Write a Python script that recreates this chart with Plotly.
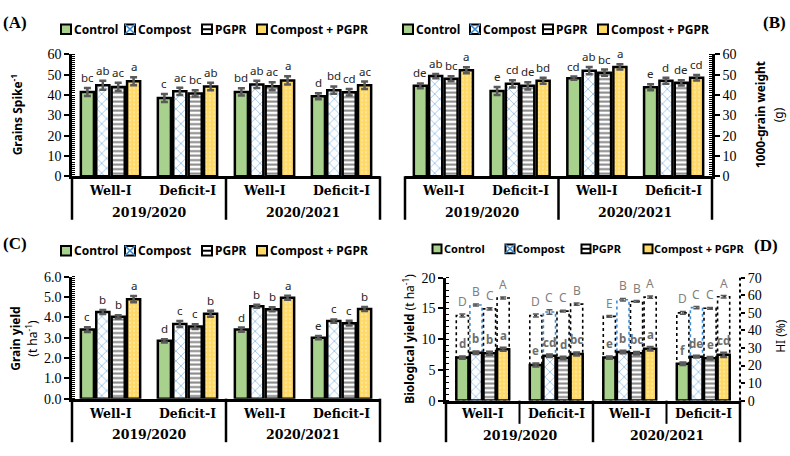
import plotly.graph_objects as go

W, H = 790, 456

# ---------------- data ----------------
categories = ["Well-I 2019/2020", "Deficit-I 2019/2020", "Well-I 2020/2021", "Deficit-I 2020/2021"]
irrigation_labels = ["Well-I", "Deficit-I", "Well-I", "Deficit-I"]
season_labels = ["2019/2020", "2020/2021"]
treatments = ["Control", "Compost", "PGPR", "Compost + PGPR"]

# (A) Grains spike-1
grains_control = [41.5, 38.5, 41.5, 39.4]
grains_compost = [44.8, 41.8, 45.2, 42.4]
grains_pgpr = [44.0, 40.8, 44.3, 41.3]
grains_cp = [46.8, 44.2, 47.2, 44.8]
grains_err_control = [2.0, 2.0, 1.8, 1.5]
grains_err_compost = [2.2, 1.8, 1.8, 1.8]
grains_err_pgpr = [2.0, 1.5, 2.0, 1.6]
grains_err_cp = [2.0, 1.8, 2.0, 1.8]
grains_letters_control = ["bc", "c", "bd", "d"]
grains_letters_compost = ["ab", "ac", "ab", "bd"]
grains_letters_pgpr = ["ac", "bc", "ac", "cd"]
grains_letters_cp = ["a", "ab", "a", "ac"]

# (B) 1000-grain weight (g)
tgw_control = [44.5, 42.0, 48.3, 43.8]
tgw_compost = [49.3, 45.5, 52.0, 47.0]
tgw_pgpr = [48.0, 44.5, 51.0, 46.0]
tgw_cp = [52.2, 47.0, 53.8, 48.5]
tgw_err_control = [1.2, 2.0, 0.8, 1.5]
tgw_err_compost = [1.0, 1.8, 1.8, 1.5]
tgw_err_pgpr = [1.2, 1.8, 1.5, 1.3]
tgw_err_cp = [1.5, 1.5, 1.3, 1.3]
tgw_letters_control = ["de", "e", "cd", "e"]
tgw_letters_compost = ["ab", "cd", "ab", "d"]
tgw_letters_pgpr = ["bc", "de", "bc", "de"]
tgw_letters_cp = ["a", "bd", "a", "cd"]

# (C) Grain yield (t ha-1)
gy_control = [3.40, 2.85, 3.40, 3.00]
gy_compost = [4.27, 3.68, 4.55, 3.82]
gy_pgpr = [4.03, 3.55, 4.40, 3.72]
gy_cp = [4.90, 4.18, 4.97, 4.42]
gy_err_control = [0.12, 0.08, 0.10, 0.08]
gy_err_compost = [0.10, 0.15, 0.07, 0.08]
gy_err_pgpr = [0.08, 0.12, 0.10, 0.12]
gy_err_cp = [0.15, 0.15, 0.10, 0.10]
gy_letters_control = ["c", "d", "d", "e"]
gy_letters_compost = ["b", "c", "b", "c"]
gy_letters_pgpr = ["b", "c", "b", "c"]
gy_letters_cp = ["a", "b", "a", "b"]

# (D) Biological yield (t ha-1) and HI (%)
by_control = [7.0, 5.8, 7.0, 6.0]
by_compost = [7.8, 7.3, 7.9, 7.15]
by_pgpr = [7.7, 6.95, 7.7, 6.9]
by_cp = [8.35, 7.6, 8.45, 7.45]
by_err_control = [0.2, 0.25, 0.2, 0.2]
by_err_compost = [0.2, 0.2, 0.2, 0.15]
by_err_pgpr = [0.25, 0.2, 0.2, 0.2]
by_err_cp = [0.25, 0.25, 0.3, 0.35]
by_letters_control = ["d", "e", "e", "f"]
by_letters_compost = ["b", "cd", "b", "de"]
by_letters_pgpr = ["b", "d", "bc", "e"]
by_letters_cp = ["a", "bc", "a", "cd"]

hi_control = [48.5, 48.5, 48.0, 50.0]
hi_compost = [54.5, 50.5, 57.5, 53.0]
hi_pgpr = [52.3, 51.0, 56.5, 52.6]
hi_cp = [58.5, 55.0, 59.0, 59.2]
hi_err_control = [0.8, 0.8, 0.5, 0.8]
hi_err_compost = [0.6, 1.3, 0.7, 0.6]
hi_err_pgpr = [0.6, 0.5, 0.5, 0.5]
hi_err_cp = [0.6, 0.7, 0.6, 0.7]
hi_letters_control = ["D", "D", "E", "D"]
hi_letters_compost = ["B", "C", "B", "C"]
hi_letters_pgpr = ["C", "C", "B", "C"]
hi_letters_cp = ["A", "B", "A", "A"]

# ---------------- styles ----------------
def fx(px):
    return px / W

def fy(px):
    return 1 - px / H

GREEN = "#A9D18E"
BLUE = "#3C8DD6"
YELLOW = "#FFD966"
ERR = "#595959"

def marker_style(k, lw=2.5):
    line = dict(color="black", width=lw)
    if k == 0:
        return dict(color=GREEN, line=line)
    if k == 1:
        return dict(color="white", line=line,
                    pattern=dict(shape="x", fgcolor=BLUE, bgcolor="white", size=7, solidity=0.25))
    if k == 2:
        return dict(color="white", line=line,
                    pattern=dict(shape="-", fgcolor="#111111", bgcolor="white", size=4.5, solidity=0.45))
    return dict(color=YELLOW, line=line,
                pattern=dict(shape=".", fgcolor="#FFF3CF", bgcolor=YELLOW, size=4, solidity=0.25))

fig = go.Figure()

def add_panel_bars(xa, ya, vals, errs, letters, offsets, width, lfont, lw=2.5, yshift=1):
    for k in range(4):
        fig.add_trace(go.Bar(
            x=categories, y=vals[k], name=treatments[k], xaxis=xa, yaxis=ya,
            offset=offsets[k], width=width, marker=marker_style(k, lw),
            error_y=dict(type="data", array=errs[k], color=ERR, thickness=2.5, width=3.5),
            showlegend=False))
        for j, v in enumerate(vals[k]):
            fig.add_annotation(x=j + offsets[k] + width / 2, y=v + errs[k][j], xref=xa, yref=ya,
                               text=letters[k][j], showarrow=False, xanchor="center",
                               yanchor="bottom", yshift=yshift, font=lfont)

w_abc = 0.17
off_abc = [-0.385 + 0.2 * k for k in range(4)]
letter_font = dict(family="Noto Sans", size=11.5, color="#262626")

add_panel_bars("x", "y",
               [grains_control, grains_compost, grains_pgpr, grains_cp],
               [grains_err_control, grains_err_compost, grains_err_pgpr, grains_err_cp],
               [grains_letters_control, grains_letters_compost, grains_letters_pgpr, grains_letters_cp],
               off_abc, w_abc, letter_font)
add_panel_bars("x2", "y2",
               [tgw_control, tgw_compost, tgw_pgpr, tgw_cp],
               [tgw_err_control, tgw_err_compost, tgw_err_pgpr, tgw_err_cp],
               [tgw_letters_control, tgw_letters_compost, tgw_letters_pgpr, tgw_letters_cp],
               off_abc, w_abc, letter_font)
add_panel_bars("x3", "y3",
               [gy_control, gy_compost, gy_pgpr, gy_cp],
               [gy_err_control, gy_err_compost, gy_err_pgpr, gy_err_cp],
               [gy_letters_control, gy_letters_compost, gy_letters_pgpr, gy_letters_cp],
               off_abc, w_abc, letter_font)

# Panel D: HI (dotted, right axis y4) + biological yield (bars, left axis y5)
w_d = 0.165
off_d = [-0.36 + 0.185 * k for k in range(4)]
hi_vals = [hi_control, hi_compost, hi_pgpr, hi_cp]
hi_errs = [hi_err_control, hi_err_compost, hi_err_pgpr, hi_err_cp]
hi_letters = [hi_letters_control, hi_letters_compost, hi_letters_pgpr, hi_letters_cp]
for k in range(4):
    fig.add_trace(go.Bar(
        x=categories, y=hi_vals[k], name=treatments[k] + " HI", xaxis="x4", yaxis="y4",
        offset=off_d[k], width=w_d,
        marker=dict(color="rgba(255,255,255,0)", line=dict(width=0)),
        error_y=dict(type="data", array=hi_errs[k], color=ERR, thickness=1.5, width=3),
        showlegend=False))
    for j, v in enumerate(hi_vals[k]):
        fig.add_shape(type="rect", xref="x4", yref="y4",
                      x0=j + off_d[k], x1=j + off_d[k] + w_d, y0=0, y1=v,
                      line=dict(color=BLUE if k == 1 else "black", width=1.6, dash="dot"),
                      layer="below")
        fig.add_annotation(x=j + off_d[k] + w_d / 2, y=v + hi_errs[k][j], xref="x4", yref="y4",
                           text=hi_letters[k][j], showarrow=False, xanchor="center",
                           yanchor="bottom", yshift=2,
                           font=dict(family="Noto Sans", size=12, color="#7F7F7F"))

add_panel_bars("x4", "y5",
               [by_control, by_compost, by_pgpr, by_cp],
               [by_err_control, by_err_compost, by_err_pgpr, by_err_cp],
               [[f"<b>{t}</b>" for t in by_letters_control],
                [f"<b>{t}</b>" for t in by_letters_compost],
                [f"<b>{t}</b>" for t in by_letters_pgpr],
                [f"<b>{t}</b>" for t in by_letters_cp]],
               off_d, w_d, dict(family="Noto Sans", size=11.5, color="#6E6E6E"), yshift=3)

# ---------------- axes ----------------
tickfont = dict(family="Liberation Serif", size=14, color="black")
xbase = dict(type="category", range=[-0.5, 3.5], showline=True, linewidth=2.5, linecolor="black",
             showticklabels=False, ticks="", showgrid=False, zeroline=False, fixedrange=True)

def ybase(rng, dtick, minor_dtick, side="left", fmt=None):
    d = dict(range=rng, dtick=dtick, showline=True, linewidth=2.5, linecolor="black",
             ticks="outside", ticklen=5, tickwidth=2, tickcolor="black", tickfont=tickfont,
             showgrid=False, zeroline=False, side=side, fixedrange=True,
             minor=dict(ticks="inside", dtick=minor_dtick, ticklen=3, tickwidth=1, tickcolor="black",
                        showgrid=False))
    if fmt:
        d["tickformat"] = fmt
    return d

yA = [fy(175), fy(49)]
yC = [fy(405), fy(279)]
yD = [fy(407), fy(280)]

fig.update_layout(
    xaxis=dict(xbase, domain=[fx(72), fx(380)], anchor="y"),
    yaxis=dict(ybase([0, 60], 10, 1), domain=yA, anchor="x"),
    xaxis2=dict(xbase, domain=[fx(405), fx(712)], anchor="y2"),
    yaxis2=dict(ybase([0, 60], 10, 1, side="right"), domain=yA, anchor="x2"),
    xaxis3=dict(xbase, domain=[fx(72), fx(380)], anchor="y3"),
    yaxis3=dict(ybase([0, 6], 1, 0.1, fmt=".1f"), domain=yC, anchor="x3"),
    xaxis4=dict(xbase, domain=[fx(446), fx(740)], anchor="y4"),
    yaxis4=dict(range=[0, 70], dtick=10, side="right", showline=False, ticks="outside", ticklen=4,
                tickwidth=1.5, tickcolor="black", tickfont=tickfont, showgrid=False, zeroline=False,
                domain=yD, anchor="x4", fixedrange=True),
    yaxis5=dict(ybase([0, 20], 5, 1), overlaying="y4", anchor="x4"),
)

# dotted right axis line for HI
fig.add_shape(type="line", xref="x4 domain", yref="y4 domain", x0=1, x1=1, y0=0, y1=1,
              line=dict(color="black", width=2, dash="dot"))

# ---------------- category boxes ----------------
def category_box(xa, top_px, bottom_px, row1_px, row2_px, short_px=None):
    for xd in [0, 0.5, 1]:
        fig.add_shape(type="line", xref=f"{xa} domain", yref="paper", x0=xd, x1=xd,
                      y0=fy(top_px), y1=fy(bottom_px), line=dict(color="black", width=2.5))
    if short_px is not None:
        for xd in [0.25, 0.75]:
            fig.add_shape(type="line", xref=f"{xa} domain", yref="paper", x0=xd, x1=xd,
                          y0=fy(top_px), y1=fy(short_px), line=dict(color="black", width=2))
    catfont = dict(family="DejaVu Serif", size=12.5, color="black")
    for j, lab in enumerate(irrigation_labels):
        fig.add_annotation(x=j, y=fy(row1_px), xref=xa, yref="paper", text=f"<b>{lab}</b>",
                           showarrow=False, xanchor="center", yanchor="middle", font=catfont)
    for s, lab in enumerate(season_labels):
        fig.add_annotation(x=0.5 + 2 * s, y=fy(row2_px), xref=xa, yref="paper", text=f"<b>{lab}</b>",
                           showarrow=False, xanchor="center", yanchor="middle", font=catfont)

category_box("x", 175, 220, 190, 212)
category_box("x2", 175, 220, 190, 212)
category_box("x3", 405, 450, 420, 442)
category_box("x4", 407, 450, 420, 443, short_px=431)

# ---------------- legends ----------------
def legend(icon_cx, text_x, cy, size=10, fsize=12):
    s = size / 2
    for k in range(4):
        x0, x1 = fx(icon_cx[k] - s), fx(icon_cx[k] + s)
        y0, y1 = fy(cy + s), fy(cy - s)
        fill = [GREEN, "white", "white", YELLOW][k]
        fig.add_shape(type="rect", xref="paper", yref="paper", x0=x0, x1=x1, y0=y0, y1=y1,
                      fillcolor=fill, line=dict(color="black", width=2))
        if k == 1:
            fig.add_shape(type="line", xref="paper", yref="paper", x0=x0, x1=x1, y0=y0, y1=y1,
                          line=dict(color=BLUE, width=1.5))
            fig.add_shape(type="line", xref="paper", yref="paper", x0=x0, x1=x1, y0=y1, y1=y0,
                          line=dict(color=BLUE, width=1.5))
        if k == 2:
            fig.add_shape(type="line", xref="paper", yref="paper", x0=x0, x1=x1,
                          y0=fy(cy), y1=fy(cy), line=dict(color="black", width=2))
        fig.add_annotation(x=fx(text_x[k]), y=fy(cy), xref="paper", yref="paper", text=f"<b>{treatments[k]}</b>",
                           showarrow=False, xanchor="left", yanchor="middle",
                           font=dict(family="Noto Sans", size=fsize, color="black"))

legend([66, 130, 207, 262], [72, 136, 213, 268], 23)
legend([408, 475, 548, 603], [414, 481, 554, 609], 23)
legend([66, 130, 207, 262], [72, 136, 213, 268], 252)
legend([437, 510, 586, 648], [442, 514, 590, 652], 250, size=9, fsize=11)

# ---------------- titles ----------------
def text(xp, yp, s, size=12, family="Noto Sans", angle=-90, color="black"):
    fig.add_annotation(x=fx(xp), y=fy(yp), xref="paper", yref="paper", text=s, showarrow=False,
                       textangle=angle, xanchor="center", yanchor="middle",
                       font=dict(family=family, size=size, color=color))

text(17, 112, "<b>Grains Spike<sup>-1</sup></b>")
text(760, 112, "<b>1000-grain weight</b>")
text(778, 112, "(g)")
text(16, 343, "<b>Grain yield</b>")
text(32, 343, "(t ha<sup>-1</sup>)")
text(409, 343, "<b>Biological yield</b> (t ha<sup>-1</sup>)")
text(781, 340, "HI (%)")

plabel = dict(size=17, family="Liberation Serif", angle=0)
text(15, 16, "<b>(A)</b>", **plabel)
text(774, 16, "<b>(B)</b>", **plabel)
text(15, 245, "<b>(C)</b>", **plabel)
text(766, 247, "<b>(D)</b>", **plabel)

fig.update_layout(width=W, height=H, margin=dict(l=0, r=0, t=0, b=0),
                  plot_bgcolor="white", paper_bgcolor="white", showlegend=False,
                  barmode="overlay")

fig.write_html("out.html", config={"displayModeBar": False},
               post_script="document.body.style.margin='0';document.body.style.overflow='hidden';")
